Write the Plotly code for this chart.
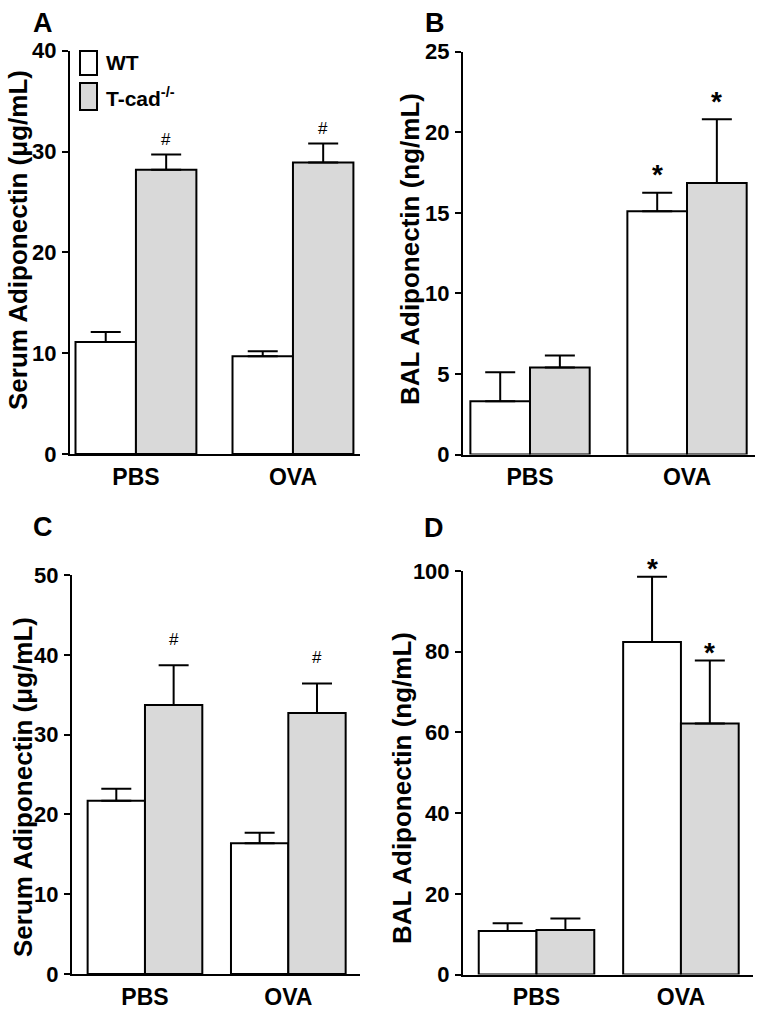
import plotly.graph_objects as go

# ---------------- data ----------------
groups = ["PBS", "OVA"]

a_wt = [11.1, 9.7]
a_wt_err = [1.0, 0.5]
a_tcad = [28.2, 28.9]
a_tcad_err = [1.5, 1.9]

b_wt = [3.3, 15.1]
b_wt_err = [1.8, 1.15]
b_tcad = [5.4, 16.85]
b_tcad_err = [0.75, 3.95]

c_wt = [21.7, 16.4]
c_wt_err = [1.5, 1.3]
c_tcad = [33.7, 32.7]
c_tcad_err = [5.0, 3.7]

d_wt = [10.8, 82.4]
d_wt_err = [1.9, 16.2]
d_tcad = [11.0, 62.2]
d_tcad_err = [2.9, 15.6]

# significance markers: (series, group index, symbol)
a_marks = [("tcad", 0, "#"), ("tcad", 1, "#")]
b_marks = [("wt", 1, "*"), ("tcad", 1, "*")]
c_marks = [("tcad", 0, "#"), ("tcad", 1, "#")]
d_marks = [("wt", 1, "*"), ("tcad", 1, "*")]

y_ranges = {"A": [0, 40], "B": [0, 25], "C": [0, 50], "D": [0, 100]}
y_dticks = {"A": 10, "B": 5, "C": 10, "D": 20}
y_titles = {"A": "Serum Adiponectin (μg/mL)", "B": "BAL Adiponectin (ng/mL)",
            "C": "Serum Adiponectin (μg/mL)", "D": "BAL Adiponectin (ng/mL)"}

# ---------------- layout geometry ----------------
W, H = 762, 1015
PAGE_OFFSET = 0  # body margin is removed by the post script below
FONT = "Liberation Sans, Arial, sans-serif"
GRAY = "#d9d9d9"

def px_x(p):
    return (p - PAGE_OFFSET) / W

def px_y(p):
    return 1 - (p - PAGE_OFFSET) / H

panels = {
    # name: (x domain px, y domain px (bottom, top), x range, bar width, marker shift px)
    "A": ((70, 360), (454, 50.7), (-0.420, 1.427), 0.385, 15),
    "B": ((463, 755), (454.5, 51.7), (-0.427, 1.433), 0.38, 23),
    "C": ((72, 360), (974, 575), (-0.509, 1.500), 0.40, 26),
    "D": ((463, 753), (974.5, 571), (-0.509, 1.499), 0.40, 13),
}

series = {
    "A": (a_wt, a_wt_err, a_tcad, a_tcad_err, a_marks),
    "B": (b_wt, b_wt_err, b_tcad, b_tcad_err, b_marks),
    "C": (c_wt, c_wt_err, c_tcad, c_tcad_err, c_marks),
    "D": (d_wt, d_wt_err, d_tcad, d_tcad_err, d_marks),
}

fig = go.Figure()
layout = dict(
    width=W, height=H, autosize=False,
    margin=dict(l=0, r=0, t=0, b=0, pad=0, autoexpand=False),
    paper_bgcolor="white", plot_bgcolor="white",
    showlegend=False,
    barmode="overlay",
    font=dict(family=FONT, color="black"),
)
annotations = []
shapes = []

xpos = list(range(len(groups)))

for i, name in enumerate(["A", "B", "C", "D"]):
    (x0, x1), (yb, yt), xr, w, mshift = panels[name]
    wt, wt_err, tc, tc_err, marks = series[name]
    sfx = "" if i == 0 else str(i + 1)
    xa, ya = "x" + sfx, "y" + sfx

    err_common = dict(type="data", symmetric=False, color="black",
                      thickness=2, width=15)
    fig.add_trace(go.Bar(
        x=xpos, y=wt, width=w, offset=-w, xaxis=xa, yaxis=ya,
        marker=dict(color="white", line=dict(color="black", width=2)),
        error_y=dict(array=wt_err, arrayminus=[0] * len(wt), **err_common),
        name="WT",
    ))
    fig.add_trace(go.Bar(
        x=xpos, y=tc, width=w, offset=0, xaxis=xa, yaxis=ya,
        marker=dict(color=GRAY, line=dict(color="black", width=2)),
        error_y=dict(array=tc_err, arrayminus=[0] * len(tc), **err_common),
        name="T-cad-/-",
    ))

    layout["xaxis" + sfx] = dict(
        domain=[px_x(x0), px_x(x1)], anchor=ya, range=list(xr),
        tickmode="array", tickvals=xpos, ticktext=groups,
        showline=True, linecolor="black", linewidth=2,
        ticks="", showgrid=False, zeroline=False, automargin=False,
        tickfont=dict(family=FONT, size=23, weight="bold", color="black"),
        ticklabelstandoff=1, fixedrange=True,
    )
    layout["yaxis" + sfx] = dict(
        domain=[px_y(yb), px_y(yt)], anchor=xa, range=y_ranges[name],
        dtick=y_dticks[name], tick0=0,
        showline=True, linecolor="black", linewidth=2,
        ticks="outside", ticklen=6, tickwidth=2, tickcolor="black",
        showgrid=False, zeroline=False, automargin=False,
        tickfont=dict(family=FONT, size=22, weight="bold", color="black"),
        ticklabelstandoff=1,
    )

    # significance markers
    for ser, gi, sym in marks:
        if ser == "wt":
            xm = xpos[gi] - w / 2
            ym = wt[gi] + wt_err[gi]
        else:
            xm = xpos[gi] + w / 2
            ym = tc[gi] + tc_err[gi]
        if sym == "#":
            fnt = dict(family=FONT, size=17, color="black")
        else:
            fnt = dict(family=FONT, size=28, weight="bold", color="black")
        annotations.append(dict(
            x=xm, y=ym, xref=xa, yref=ya, text=sym, showarrow=False,
            yanchor="middle", xanchor="center",
            yshift=mshift + (0 if sym == "#" else -5), font=fnt,
        ))

# panel letters
letters = {"A": (43, 23), "B": (435, 23), "C": (43, 527), "D": (434, 528)}
for k, (lx, ly) in letters.items():
    annotations.append(dict(
        x=px_x(lx), y=px_y(ly), xref="paper", yref="paper", text=k,
        showarrow=False, xanchor="center", yanchor="middle",
        font=dict(family=FONT, size=27, weight="bold", color="black"),
    ))

# y titles
ytitle_pos = {"A": (18, 240), "B": (410, 249), "C": (23, 787), "D": (402, 788)}
for k, (tx, ty) in ytitle_pos.items():
    annotations.append(dict(
        x=px_x(tx), y=px_y(ty), xref="paper", yref="paper", text=y_titles[k],
        showarrow=False, xanchor="center", yanchor="middle", textangle=-90,
        font=dict(family=FONT, size=26, weight="bold", color="black"),
    ))

# legend (panel A)
legend_items = [("WT", "white", 51, 75, 62), ("T-cad<sup>-/-</sup>", GRAY, 83, 110, 97)]
for label, col, by0, by1, ty in legend_items:
    shapes.append(dict(
        type="rect", xref="paper", yref="paper",
        x0=px_x(80), x1=px_x(97), y0=px_y(by1), y1=px_y(by0),
        fillcolor=col, line=dict(color="black", width=2),
    ))
    annotations.append(dict(
        x=px_x(104), y=px_y(ty), xref="paper", yref="paper", text=label,
        showarrow=False, xanchor="left", yanchor="middle",
        font=dict(family=FONT, size=21, weight="bold", color="black"),
    ))

layout["annotations"] = annotations
layout["shapes"] = shapes
fig.update_layout(**layout)

fig.write_html("out.html",
               config={"displayModeBar": False, "staticPlot": True},
               post_script="document.body.style.margin='0px';"
                           "document.body.style.padding='0px';")
